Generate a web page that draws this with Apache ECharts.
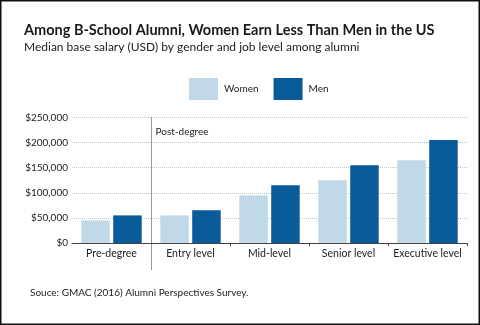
<!DOCTYPE html>
<html>
<head>
<meta charset="utf-8">
<script src="https://cdn.jsdelivr.net/npm/echarts@6/dist/echarts.min.js"></script>
<style>
html,body{margin:0;padding:0;background:#fff;}
#c{width:480px;height:325px;}
</style>
</head>
<body>
<div id="c"></div>
<script>
const titleText = 'Among B-School Alumni, Women Earn Less Than Men in the US';
const subtitleText = 'Median base salary (USD) by gender and job level among alumni';
const sourceText = 'Souce: GMAC (2016) Alumni Perspectives Survey.';
const dividerLabel = 'Post-degree';
const categories = ['Pre-degree', 'Entry level', 'Mid-level', 'Senior level', 'Executive level'];
const seriesNames = ['Women', 'Men'];
const women = [45000, 55000, 95000, 125000, 165000];
const men = [55000, 65000, 115000, 155000, 205000];
const yMax = 250000;
const yInterval = 50000;

const FONT = 'Lato, "Open Sans", sans-serif';
const chart = echarts.init(document.getElementById('c'), null, {renderer: 'canvas'});

function fmt(v) {
  return '$' + v.toString().replace(/\B(?=(\d{3})+(?!\d))/g, ',');
}

const border = {type: 'rect', silent: true, z: 100,
  shape: {x: 0.75, y: 0.75, width: 478.5, height: 323.5},
  style: {fill: 'none', stroke: '#111', lineWidth: 1.5}};

const option = {
  animation: false,
  backgroundColor: '#fff',
  textStyle: {fontFamily: FONT},
  title: [
    {text: titleText, left: 24, top: 23, padding: 0,
     textStyle: {fontFamily: FONT, fontSize: 14.5, fontWeight: 'bold', color: '#1a1a1a'}},
    {text: subtitleText, left: 24, top: 41, padding: 0,
     textStyle: {fontFamily: FONT, fontSize: 12, fontWeight: 'normal', color: '#222'}},
    {text: sourceText, left: 30, top: 287.5, padding: 0,
     textStyle: {fontFamily: FONT, fontSize: 10, fontWeight: 'normal', color: '#222'}}
  ],
  legend: {
    left: 189, top: 78, padding: 0,
    itemWidth: 29, itemHeight: 22, itemGap: 15,
    icon: 'rect',
    textStyle: {fontFamily: FONT, fontSize: 10, color: '#222', padding: [3, 0, 0, 1]},
    data: seriesNames
  },
  grid: {left: 72, right: 13, top: 117.5, bottom: 82, containLabel: false},
  xAxis: {
    type: 'category',
    data: categories,
    axisLine: {lineStyle: {color: '#444', width: 1}},
    axisTick: {show: true, length: 3, lineStyle: {color: '#444'},
      interval: function (i) { return i >= 2 && i <= 4; }},
    axisLabel: {interval: 0, fontFamily: FONT, fontSize: 10.5, color: '#222', margin: 5}
  },
  yAxis: {
    type: 'value', min: 0, max: yMax, interval: yInterval,
    axisLine: {show: false}, axisTick: {show: false},
    axisLabel: {fontFamily: FONT, fontSize: 10, color: '#222', margin: 4, formatter: fmt},
    splitLine: {lineStyle: {color: '#c8c8c8', type: [1, 1], width: 1}}
  },
  series: [
    {name: seriesNames[0], type: 'bar', data: women, barWidth: 28.5, barGap: '12%',
     itemStyle: {color: '#c0d8e8'}},
    {name: seriesNames[1], type: 'bar', data: men, barWidth: 28.5,
     itemStyle: {color: '#0a5b99'}}
  ],
  graphic: [border]
};
chart.setOption(option);

// divider between Pre-degree and Entry level, computed from the axes
const p0 = chart.convertToPixel({gridIndex: 0}, [0, yMax]);
const p1 = chart.convertToPixel({gridIndex: 0}, [1, 0]);
const xDiv = Math.round((p0[0] + p1[0]) / 2) + 0.5;
chart.setOption({
  graphic: [
    border,
    {type: 'line', silent: true, z: 50,
     shape: {x1: xDiv, y1: p0[1], x2: xDiv, y2: p1[1] + 27},
     style: {stroke: '#333', lineWidth: 1, lineDash: [1, 1]}},
    {type: 'text', silent: true, z: 50,
     x: xDiv + 4, y: p0[1] + 14,
     style: {text: dividerLabel, fontFamily: FONT, fontSize: 10, fill: '#222', verticalAlign: 'middle'}}
  ]
});
</script>
</body>
</html>
